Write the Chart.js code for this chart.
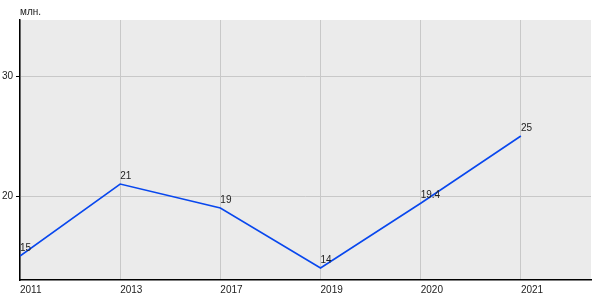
<!DOCTYPE html>
<html>
<head>
<meta charset="utf-8">
<script src="https://cdn.jsdelivr.net/npm/chart.js@4"></script>
<style>
  html, body { margin: 0; padding: 0; background: #fff; }
  #wrap { width: 600px; height: 300px; }
</style>
</head>
<body>
<div id="wrap"><canvas id="chart"></canvas></div>
<script>
// данные
var years = ['2011', '2013', '2017', '2019', '2020', '2021'];
var values = [15, 21, 19, 14, 19.4, 25];
var yTicks = [20, 30];
var unitLabel = 'млн.';

var FONT = '"Liberation Sans Narrow", "Arial Narrow", Arial, sans-serif';

var points = values.map(function (v, i) { return { x: i, y: v }; });

// фон области графика + подписи
var extras = {
    id: 'extras',
    beforeDraw: function (chart) {
        var ctx = chart.ctx, a = chart.chartArea;
        ctx.save();
        ctx.fillStyle = '#ebebeb';
        ctx.fillRect(a.left, a.top, a.right - a.left, a.bottom - a.top);
        ctx.restore();
    },
    afterDatasetsDraw: function (chart) {
        var ctx = chart.ctx;
        var meta = chart.getDatasetMeta(0);
        ctx.save();
        ctx.font = '10px ' + FONT;
        ctx.fillStyle = '#222';
        ctx.textAlign = 'left';
        ctx.textBaseline = 'alphabetic';
        meta.data.forEach(function (el, i) {
            ctx.fillText(String(values[i]), el.x, el.y - 5);
        });
        ctx.fillText(unitLabel, chart.chartArea.left, 15);
        ctx.restore();
    }
};

var config = {
    type: 'line',
    data: {
        datasets: [{
            data: points,
            borderColor: '#0847ee',
            borderWidth: 1.6,
            pointRadius: 0,
            tension: 0,
            fill: false
        }]
    },
    options: {
        responsive: false,
        animation: false,
        layout: { padding: { top: 20, right: 9, left: 0, bottom: 0 } },
        plugins: {
            legend: { display: false },
            tooltip: { enabled: false }
        },
        scales: {
            x: {
                type: 'linear',
                min: 0,
                max: 5.7,
                afterBuildTicks: function (scale) {
                    scale.ticks = years.map(function (y, i) { return { value: i }; });
                },
                afterFit: function (scale) { scale.height = 20; },
                grid: { color: '#c8c8c8', drawTicks: false },
                border: { color: '#000', width: 1.5 },
                ticks: {
                    align: 'start',
                    padding: 4,
                    maxRotation: 0,
                    autoSkip: false,
                    color: '#222',
                    font: { family: FONT, size: 10 },
                    callback: function (v) { return years[v]; }
                }
            },
            y: {
                min: 13,
                max: 34.67,
                afterBuildTicks: function (scale) {
                    scale.ticks = yTicks.map(function (v) { return { value: v }; });
                },
                afterFit: function (scale) { scale.width = 20; },
                grid: { color: '#c8c8c8', tickColor: '#000', tickLength: 4 },
                border: { color: '#000', width: 1.5 },
                ticks: {
                    padding: 3,
                    color: '#222',
                    font: { family: FONT, size: 10 }
                }
            }
        }
    },
    plugins: [extras]
};

var canvas = document.getElementById('chart');
canvas.width = 600;
canvas.height = 300;
var myChart = new Chart(canvas, config);
</script>
</body>
</html>
